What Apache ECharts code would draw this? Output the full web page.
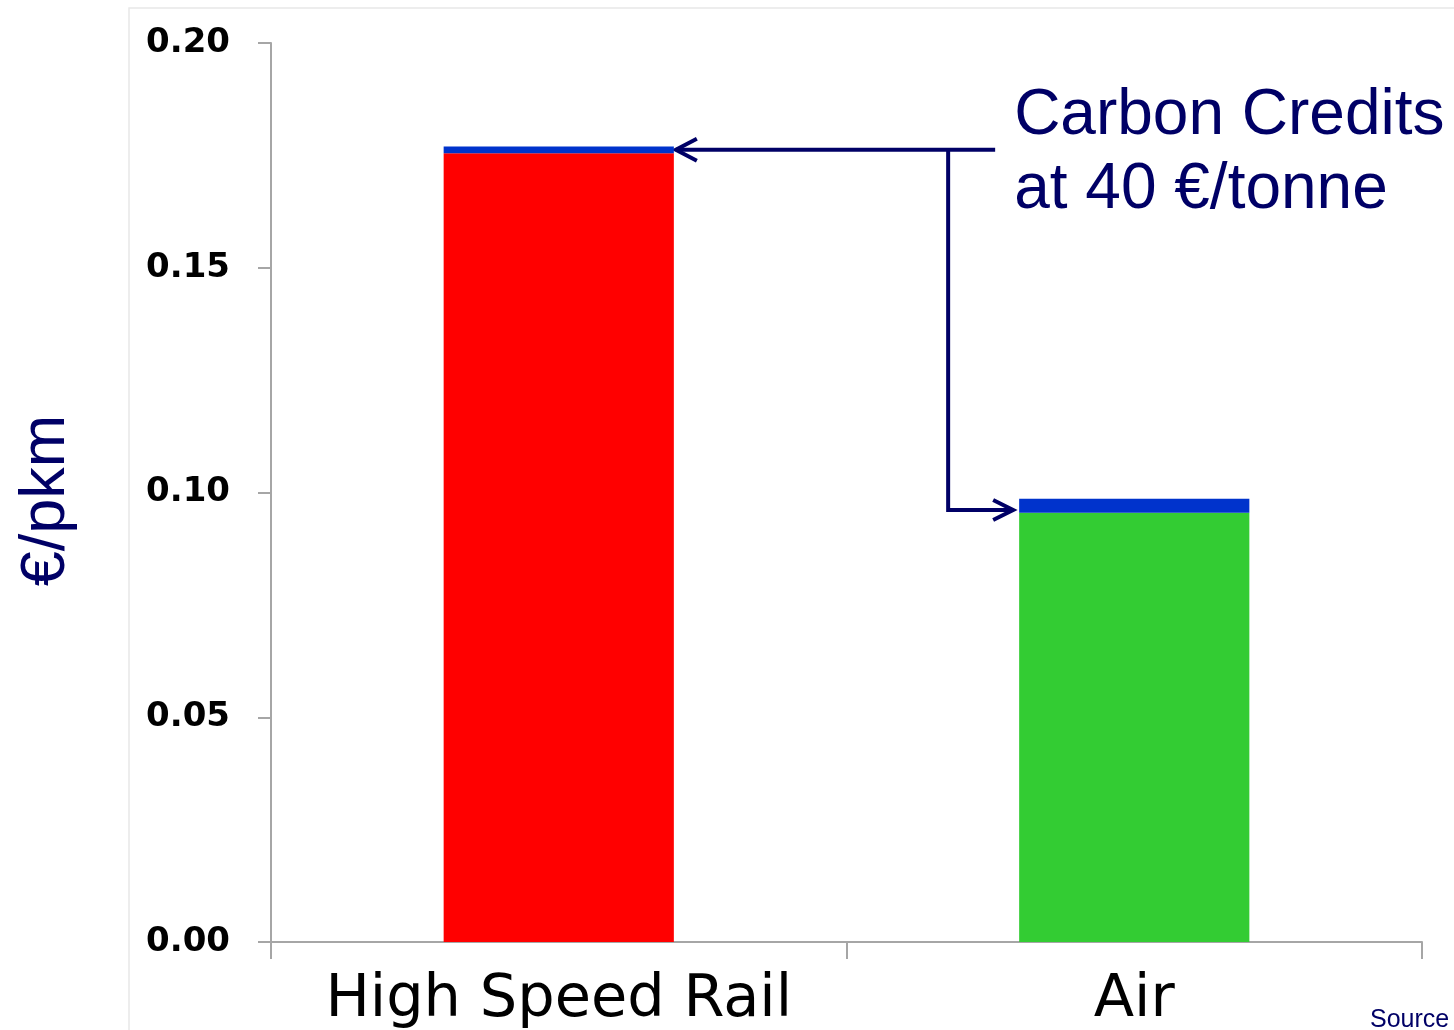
<!DOCTYPE html>
<html>
<head>
<meta charset="utf-8">
<script src="https://cdn.jsdelivr.net/npm/echarts@6/dist/echarts.min.js"></script>
<style>
html,body{margin:0;padding:0;background:#fff;}
#chart{width:1454px;height:1030px;}
</style>
</head>
<body>
<div id="chart"></div>
<script>
// ---- data ----
var categories = ['High Speed Rail', 'Air'];
var baseCost = [0.1755, 0.0955];       // red (rail) / green (air)
var carbonCredits = [0.0015, 0.0031];  // blue top segment
var baseColors = ['#ff0000', '#33cc33'];
var yTicks = [0, 0.05, 0.10, 0.15, 0.20];
var annotationLines = ['Carbon Credits', 'at 40 \u20ac/tonne'];
var yAxisTitle = '\u20ac/pkm';
var sourceText = 'Source';

var navy = '#000066';
var chart = echarts.init(document.getElementById('chart'));

var option = {
  animation: false,
  backgroundColor: '#ffffff',
  grid: { left: 271, right: 32, top: 43, bottom: 87, containLabel: false },
  xAxis: {
    type: 'category',
    data: categories,
    axisLine: { lineStyle: { color: '#a6a6a6', width: 2 } },
    axisTick: { show: true, length: 17, lineStyle: { color: '#a6a6a6', width: 2 } },
    axisLabel: { interval: 0, color: '#000', fontFamily: 'DejaVu Sans', fontSize: 59, margin: 29 }
  },
  yAxis: {
    type: 'value',
    min: yTicks[0],
    max: yTicks[yTicks.length - 1],
    interval: 0.05,
    name: yAxisTitle,
    nameLocation: 'middle',
    nameRotate: 90,
    nameGap: 193,
    nameTextStyle: { color: navy, fontFamily: 'Liberation Sans', fontSize: 63, padding: [0, 16, 0, 0] },
    axisLine: { show: true, lineStyle: { color: '#a6a6a6', width: 2 } },
    axisTick: { show: true, length: 13, lineStyle: { color: '#a6a6a6', width: 2 } },
    splitLine: { show: false },
    axisLabel: {
      color: '#000', fontFamily: 'DejaVu Sans', fontWeight: 'bold', fontSize: 34, margin: 41,
      formatter: function (v) { return v.toFixed(2); }
    }
  },
  series: [
    {
      type: 'bar', stack: 'total', barWidth: '40%',
      data: baseCost.map(function (v, i) { return { value: v, itemStyle: { color: baseColors[i] } }; })
    },
    {
      type: 'bar', stack: 'total', barWidth: '40%',
      itemStyle: { color: '#0033cc' },
      data: carbonCredits
    }
  ]
};
chart.setOption(option);

// ---- annotation drawn from axis positions ----
function px(cat, val) { return chart.convertToPixel({ gridIndex: 0 }, [cat, val]); }
var barHalf = chart.getModel().getComponent('xAxis', 0).axis.getBandWidth() * 0.4 / 2;
var railTop = baseCost[0] + carbonCredits[0] / 2;
var airTop = baseCost[1] + carbonCredits[1] * 0.2;
var pRail = px(categories[0], railTop);
var pAir = px(categories[1], airTop);
var tip1 = [pRail[0] + barHalf + 2, pRail[1]];
var tip2 = [pAir[0] - barHalf - 6, pAir[1]];
var branchX = tip2[0] - 65;
var lineEndX = tip2[0] - 18;

var ls = { stroke: navy, lineWidth: 4, fill: null, lineCap: 'butt', lineJoin: 'miter' };
chart.setOption({
  graphic: [
    { type: 'rect', silent: true, shape: { x: 129, y: 8, width: 2000, height: 2000 },
      style: { fill: null, stroke: '#e8e8e8', lineWidth: 1.5 } },
    { type: 'line', shape: { x1: tip1[0], y1: tip1[1], x2: lineEndX, y2: tip1[1] }, style: ls },
    { type: 'polyline', shape: { points: [[tip1[0] + 21, tip1[1] - 11], tip1, [tip1[0] + 21, tip1[1] + 11]] }, style: ls },
    { type: 'polyline', shape: { points: [[branchX, tip1[1]], [branchX, tip2[1]], tip2] }, style: ls },
    { type: 'polyline', shape: { points: [[tip2[0] - 20, tip2[1] - 10], tip2, [tip2[0] - 20, tip2[1] + 10]] }, style: ls },
    { type: 'text', x: tip2[0] + 1, y: 79,
      style: { text: annotationLines.join('\n'), fill: navy, fontFamily: 'Liberation Sans', fontSize: 64, lineHeight: 74 } },
    { type: 'text', x: 1370, y: 1008,
      style: { text: sourceText, fill: navy, fontFamily: 'Liberation Sans', fontSize: 25 } }
  ]
});
</script>
</body>
</html>
